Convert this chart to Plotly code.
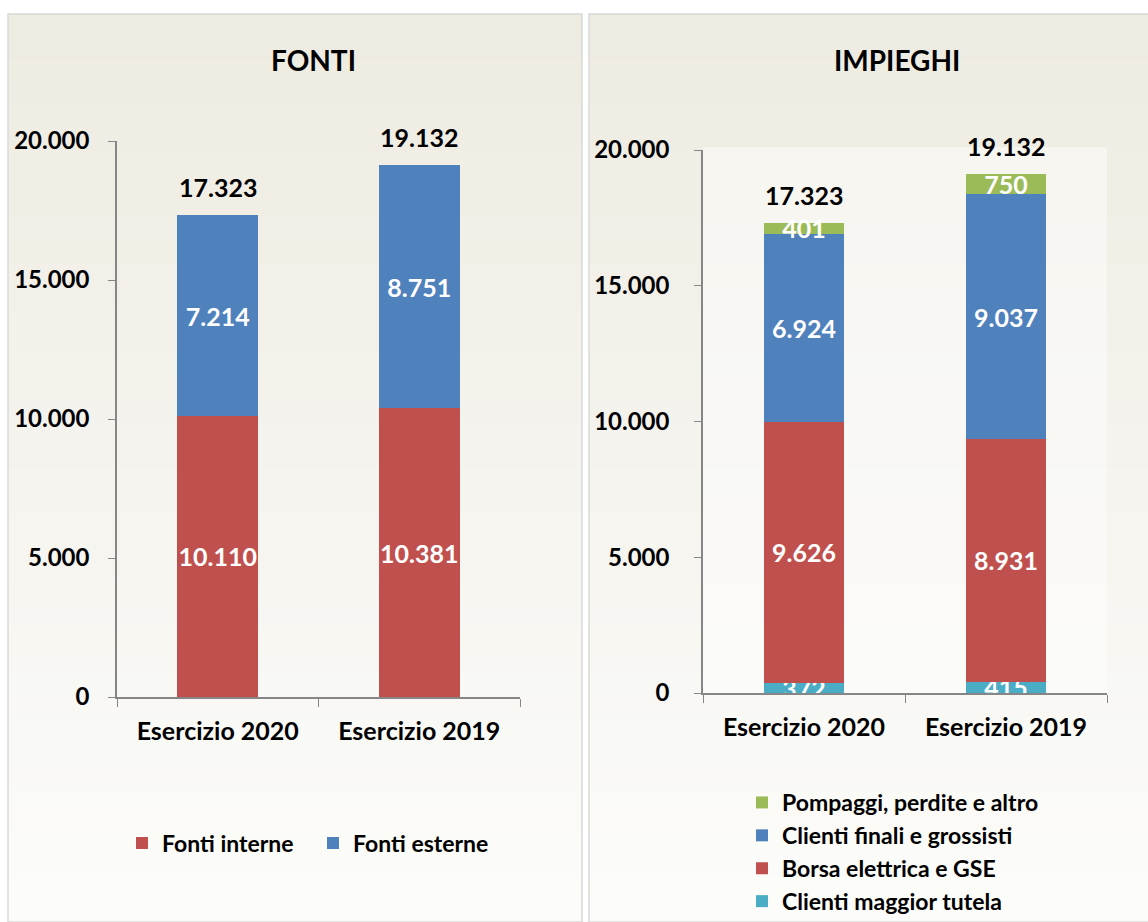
import plotly.graph_objects as go
from plotly.subplots import make_subplots

categories = ["Esercizio 2020", "Esercizio 2019"]

# FONTI
fonti_interne = [10110, 10381]
fonti_esterne = [7214, 8751]
fonti_totali = [17323, 19132]

# IMPIEGHI
clienti_tutela = [372, 415]
borsa_gse = [9626, 8931]
clienti_finali = [6924, 9037]
pompaggi = [401, 750]
impieghi_totali = [17323, 19132]

y_ticks = [0, 5000, 10000, 15000, 20000]
y_tick_labels = ["0", "5.000", "10.000", "15.000", "20.000"]


def it_fmt(v):
    return f"{v:,}".replace(",", ".")


RED = "#C0504D"
BLUE = "#4F81BD"
GREEN = "#9BBB59"
CYAN = "#4BACC6"
FONT = "Lato"
W, H = 1148, 922
BAR_FS = 25

fig = make_subplots(rows=1, cols=2)

bar_common = dict(
    textposition="inside",
    insidetextanchor="middle",
    textangle=0,
    constraintext="none",
    textfont=dict(color="white", size=BAR_FS, family=FONT),
    marker_line_width=0,
    hoverinfo="skip",
)

fig.add_trace(go.Bar(x=categories, y=fonti_interne, name="Fonti interne",
                     marker_color=RED, text=[it_fmt(v) for v in fonti_interne],
                     legend="legend", **bar_common), row=1, col=1)
fig.add_trace(go.Bar(x=categories, y=fonti_esterne, name="Fonti esterne",
                     marker_color=BLUE, text=[it_fmt(v) for v in fonti_esterne],
                     legend="legend", **bar_common), row=1, col=1)

fig.add_trace(go.Bar(x=categories, y=clienti_tutela, name="Clienti maggior tutela",
                     marker_color=CYAN, text=[it_fmt(v) for v in clienti_tutela],
                     legend="legend2", **bar_common), row=1, col=2)
fig.add_trace(go.Bar(x=categories, y=borsa_gse, name="Borsa elettrica e GSE",
                     marker_color=RED, text=[it_fmt(v) for v in borsa_gse],
                     legend="legend2", **bar_common), row=1, col=2)
fig.add_trace(go.Bar(x=categories, y=clienti_finali, name="Clienti finali e grossisti",
                     marker_color=BLUE, text=[it_fmt(v) for v in clienti_finali],
                     legend="legend2", **bar_common), row=1, col=2)
fig.add_trace(go.Bar(x=categories, y=pompaggi, name="Pompaggi, perdite e altro",
                     marker_color=GREEN, text=[it_fmt(v) for v in pompaggi],
                     legend="legend2", **bar_common), row=1, col=2)


def px(x):
    return x / W


def py(y):
    return 1 - y / H


line_col = "#868686"
LEG_FS = 23

fig.update_layout(
    width=W, height=H,
    autosize=False,
    margin=dict(l=0, r=0, t=0, b=0, pad=0, autoexpand=False),
    paper_bgcolor="white",
    plot_bgcolor="rgba(0,0,0,0)",
    barmode="stack",
    bargap=0.6,
    uniformtext=dict(minsize=BAR_FS, mode="show"),
    font=dict(family=FONT, color="#000000"),
    xaxis=dict(domain=[px(117), px(520)], anchor="y"),
    yaxis=dict(domain=[py(697), py(141)], anchor="x"),
    xaxis2=dict(domain=[px(703), px(1107)], anchor="y2"),
    yaxis2=dict(domain=[py(693), py(150)], anchor="x2"),
    legend=dict(orientation="h", x=px(122), y=py(843), xanchor="left", yanchor="middle",
                traceorder="normal",
                font=dict(family=FONT, size=LEG_FS, color="#000000"),
                bgcolor="rgba(0,0,0,0)", itemclick=False, entrywidthmode="pixels",
                entrywidth=146),
    legend2=dict(orientation="v", x=px(742), y=py(781), xanchor="left", yanchor="top",
                 traceorder="reversed",
                 font=dict(family=FONT, size=LEG_FS, color="#000000"),
                 bgcolor="rgba(0,0,0,0)", tracegroupgap=0, itemclick=False),
    showlegend=True,
)

for xa in ["xaxis", "xaxis2"]:
    fig.layout[xa].update(
        showline=True, linecolor=line_col, linewidth=1.5,
        ticks="outside", tickson="boundaries", ticklen=8, tickcolor=line_col,
        tickfont=dict(family=FONT, size=25, color="#000000"),
        ticklabelstandoff=11, automargin=False,
        showgrid=False, zeroline=False, fixedrange=True,
        tickvals=categories, ticktext=[f"<b>{c}</b>" for c in categories],
    )
for ya, so in [("yaxis", 14), ("yaxis2", 20)]:
    fig.layout[ya].update(
        range=[0, 20000], tickvals=y_ticks, ticktext=[f"<b>{t}</b>" for t in y_tick_labels],
        showline=True, linecolor=line_col, linewidth=1.5,
        ticks="outside", ticklen=7, tickcolor=line_col,
        tickfont=dict(family=FONT, size=24, color="#000000"),
        ticklabelstandoff=so, automargin=False,
        showgrid=False, zeroline=False, fixedrange=True,
    )

# Panel backgrounds with vertical gradient
shapes = []
top_c = (238, 235, 225)
bot_c = (252, 252, 250)
N = 40
for (x0, x1) in [(8, 582), (589, 1149)]:
    y0p, y1p = 14, 922
    for i in range(N):
        t = i / (N - 1)
        c = tuple(int(round(top_c[k] + (bot_c[k] - top_c[k]) * t)) for k in range(3))
        ya = y0p + (y1p - y0p) * i / N
        yb = y0p + (y1p - y0p) * (i + 1) / N + 1
        shapes.append(dict(type="rect", xref="paper", yref="paper",
                           x0=px(x0), x1=px(x1), y0=py(min(yb, y1p)), y1=py(ya),
                           fillcolor=f"rgb{c}", line_width=0, layer="below"))
    shapes.append(dict(type="rect", xref="paper", yref="paper",
                       x0=px(x0), x1=px(x1), y0=py(y1p), y1=py(y0p),
                       fillcolor="rgba(0,0,0,0)", line=dict(color="#D9D9D9", width=1.5),
                       layer="below"))
shapes.append(dict(type="rect", xref="x2 domain", yref="y2 domain",
                   x0=0, x1=1, y0=0, y1=1.005, fillcolor="rgba(255,255,255,0.45)",
                   line_width=0, layer="below"))
fig.update_layout(shapes=shapes)

annotations = [
    dict(text="<b>FONTI</b>", xref="paper", yref="paper", x=px(314), y=py(60),
         xanchor="center", yanchor="middle", showarrow=False,
         font=dict(family=FONT, size=28, color="#000000")),
    dict(text="<b>IMPIEGHI</b>", xref="paper", yref="paper", x=px(897), y=py(60),
         xanchor="center", yanchor="middle", showarrow=False,
         font=dict(family=FONT, size=28, color="#000000")),
]
for cat, tot in zip(categories, fonti_totali):
    annotations.append(dict(text=f"<b>{it_fmt(tot)}</b>", x=cat, y=tot, xref="x", yref="y",
                            xanchor="center", yanchor="bottom", yshift=11, showarrow=False,
                            font=dict(family=FONT, size=25, color="#000000")))
for cat, tot in zip(categories, impieghi_totali):
    annotations.append(dict(text=f"<b>{it_fmt(tot)}</b>", x=cat, y=tot, xref="x2", yref="y2",
                            xanchor="center", yanchor="bottom", yshift=11, showarrow=False,
                            font=dict(family=FONT, size=25, color="#000000")))
fig.update_layout(annotations=annotations)

fig.update_traces(texttemplate="<b>%{text}</b>")
for tr in fig.data:
    tr.name = f"<b>{tr.name}</b>"

fig.write_html(
    "out.html",
    config={"responsive": False, "displayModeBar": False},
    post_script="document.body.style.margin='0';document.body.style.padding='0';"
                "document.documentElement.style.overflow='hidden';",
)
